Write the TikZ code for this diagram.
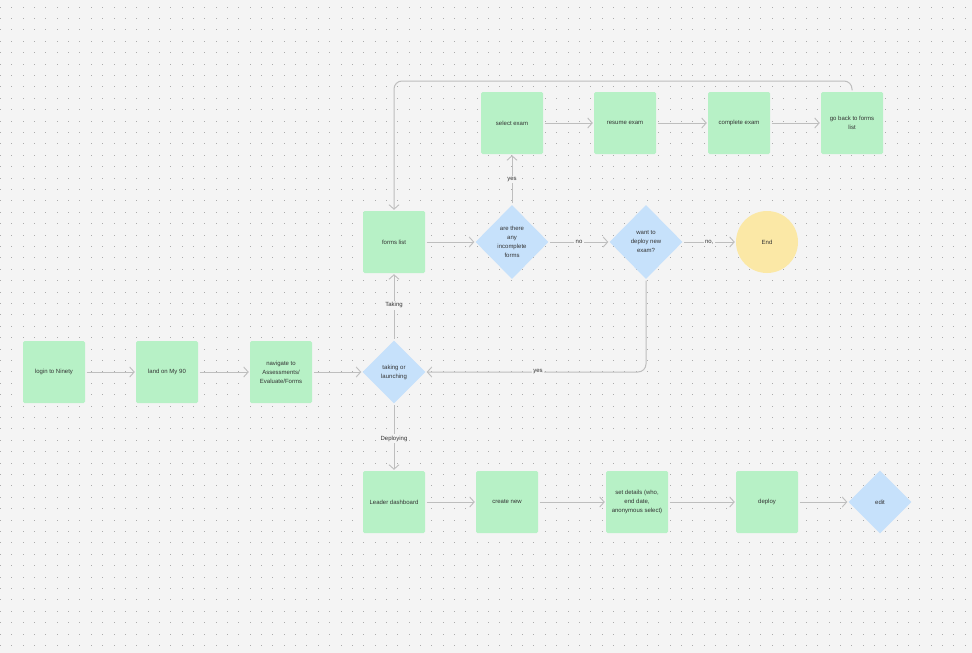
\documentclass[tikz,border=0pt]{standalone}
\usepackage{fontspec}
\setmainfont{Liberation Sans}
\usetikzlibrary{arrows.meta,shapes.geometric}
\definecolor{bgc}{HTML}{F4F4F4}
\definecolor{dotc}{HTML}{ABABAB}
\definecolor{greenc}{HTML}{B7F1C6}
\definecolor{bluec}{HTML}{C6E1FB}
\definecolor{yellowc}{HTML}{FBE8A6}
\definecolor{linec}{HTML}{BEBEBE}
\definecolor{txtc}{HTML}{333333}
\tikzset{
  stepbox/.style={rectangle, fill=greenc, rounded corners=1.5pt, minimum width=62pt, minimum height=62pt, inner sep=2pt, align=center, font=\fontsize{6}{9}\selectfont, text=txtc},
  decbox/.style={diamond, fill=bluec, minimum width=63pt, minimum height=63pt, inner sep=0pt, align=center, font=\fontsize{6}{9}\selectfont, text=txtc},
  bigdec/.style={decbox, minimum width=73pt, minimum height=74pt},
  endbox/.style={circle, fill=yellowc, minimum size=62pt, inner sep=0pt, font=\fontsize{6}{9}\selectfont, text=txtc},
  conn/.style={draw=linec, line width=1pt, -{Straight Barb[length=4.5pt,width=10pt,line width=0.9pt]}, shorten >=1pt, shorten <=1.5pt},
  lbl/.style={fill=bgc, inner sep=1.5pt, font=\fontsize{6}{8}\selectfont, text=txtc}
}
\begin{document}
\begin{tikzpicture}[x=1pt,y=-1pt]
\useasboundingbox (0,0) rectangle (972,653);
\fill[bgc] (0,0) rectangle (972,653);
\foreach \i in {0,...,85} {
  \foreach \j in {0,...,56} {
    \fill[dotc] ({0.5+11.35*\i-0.5},{7+11.4*\j-0.5}) rectangle ++(1,1);
  }
}
% top-left row
\node[stepbox] (login) at (54,372) {login to Ninety};
\node[stepbox] (land) at (167,372) {land on My 90};
\node[stepbox] (nav) at (281,372) {navigate to\\Assessments/\\Evaluate/Forms};
\node[decbox] (take) at (394,372) {taking or\\launching};
% middle row
\node[stepbox] (forms) at (394,242) {forms list};
\node[bigdec] (incomp) at (512,242) {are there\\any\\incomplete\\forms};
\node[bigdec] (want) at (646,242) {want to\\deploy new\\exam?};
\node[endbox] (end) at (767,242) {End};
% top row
\node[stepbox] (select) at (512,123) {select exam};
\node[stepbox] (resume) at (625,123) {resume exam};
\node[stepbox] (complete) at (739,123) {complete exam};
\node[stepbox] (goback) at (852,123) {go back to forms\\list};
% bottom row
\node[stepbox] (leader) at (394,502) {Leader dashboard};
\node[stepbox] (create) at (507,502) {create new};
\node[stepbox] (details) at (637,502) {set details (who,\\end date,\\anonymous select)};
\node[stepbox] (deploy) at (767,502) {deploy};
\node[decbox] (edit) at (880,502) {edit};
% connectors
\draw[conn] (login) -- (land);
\draw[conn] (land) -- (nav);
\draw[conn] (nav) -- (take);
\draw[conn] (take) -- node[lbl, pos=0.52] {Taking} (forms);
\draw[conn] (take) -- node[lbl, pos=0.52] {Deploying} (leader);
\draw[conn] (forms) -- (incomp);
\draw[conn] (incomp) -- node[lbl] {no} (want);
\draw[conn] (want) -- node[lbl] {no,} (end);
\draw[conn] (incomp) -- node[lbl] {yes} (select);
\draw[conn] (select) -- (resume);
\draw[conn] (resume) -- (complete);
\draw[conn] (complete) -- (goback);
\coordinate (gbtop) at (852,81);
\coordinate (fltop) at (394,81);
\draw[conn, rounded corners=8pt] (goback.north) -- (gbtop) -- (fltop) -- (forms.north);
\coordinate (wcorner) at (646,372);
\draw[conn, rounded corners=8pt] (want.south) -- (wcorner) -- node[lbl, pos=0.49] {yes} (take.east);
\draw[conn] (leader) -- (create);
\draw[conn] (create) -- (details);
\draw[conn] (details) -- (deploy);
\draw[conn] (deploy) -- (edit);
\end{tikzpicture}
\end{document}
